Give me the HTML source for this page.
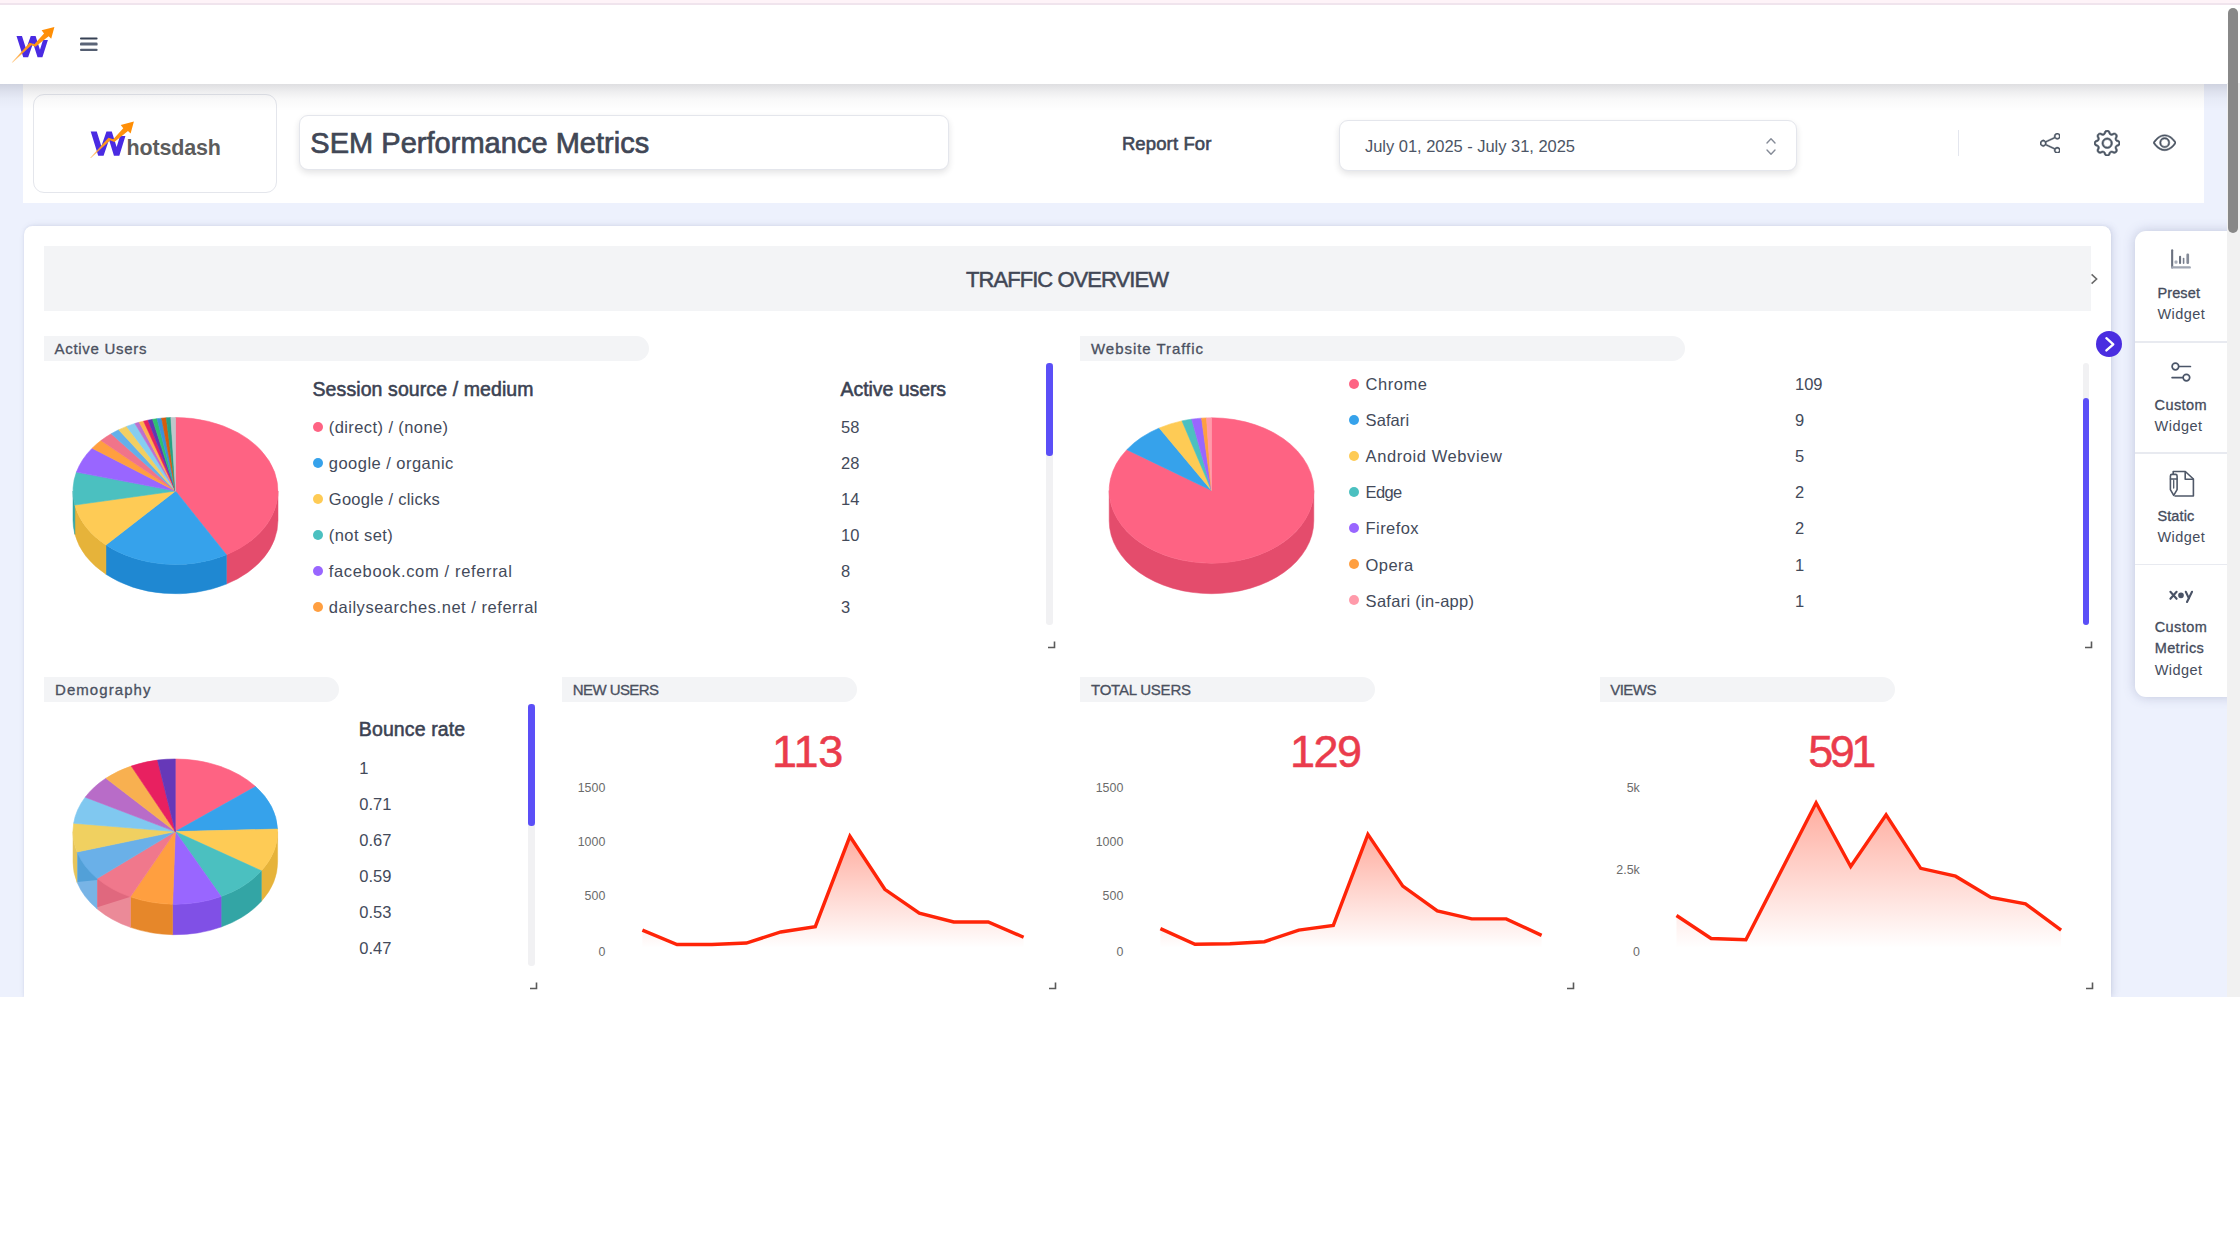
<!DOCTYPE html>
<html lang="en">
<head>
<meta charset="utf-8">
<title>SEM Performance Metrics - Whatsdash</title>
<style>
*{box-sizing:border-box;margin:0;padding:0}
html,body{width:2240px;height:1260px;overflow:hidden;background:#fff}
body{position:relative;font-family:"Liberation Sans",sans-serif}
.abs{position:absolute}
.t{position:absolute;white-space:nowrap;line-height:normal}
#stage{position:absolute;left:0;top:0;width:2240px;height:1260px;overflow:hidden}
#pinkbar{left:0;top:0;width:2240px;height:5px;z-index:11;background:linear-gradient(#fef3f8 0,#fef3f8 56%,#f0e4ed 64%,#f0e4ed 90%,#fff 100%)}
#bg{left:0;top:83px;width:2227px;height:914px;background:#edf1fd}
#nav{left:0;top:5px;width:2227px;height:78.5px;background:#fff;z-index:5}
#navsh{left:0;top:83.5px;width:2227px;height:27px;z-index:7;background:linear-gradient(rgba(10,10,30,.135) 0,rgba(10,10,30,.07) 28%,rgba(10,10,30,.028) 55%,rgba(10,10,30,0) 100%)}
#hdr{left:23px;top:83px;width:2181px;height:120.3px;background:#fff}
#logobox{left:33px;top:94px;width:243.5px;height:98.5px;border:1.3px solid #e4e6ec;border-radius:11px;background:#fff}
#title{left:299px;top:115px;width:650px;height:55px;border:1.3px solid #e4e6ec;border-radius:9px;background:#fff;box-shadow:0 3px 6px rgba(30,30,45,.12)}
#date{left:1339px;top:120px;width:458px;height:51px;border:1.3px solid #e4e6ec;border-radius:9px;background:#fff;box-shadow:0 3px 6px rgba(30,30,45,.12)}
#sep{left:1957.8px;top:130px;width:1.6px;height:26px;background:#e4e6ee}
#card{left:24.2px;top:226px;width:2086.4px;height:771px;background:#fff;border-radius:8.5px 8.5px 0 0;box-shadow:2.5px 0 7px rgba(70,80,130,.13),0 0 3px rgba(70,80,130,.10)}
#sect{left:44.2px;top:245.7px;width:2046.6px;height:65.7px;background:#f3f4f6}
.pill{position:absolute;height:24.5px;background:#f3f4f6;border-radius:0 12.5px 12.5px 0}
.dot{position:absolute;width:10px;height:10px;border-radius:50%}
.vs{position:absolute;width:6.4px;background:#f1f1f3;border-radius:3.2px}
.vt{position:absolute;width:6.4px;background:#5b4ff7;border-radius:3.2px}
#side{left:2135px;top:231px;width:100px;height:465.5px;background:#fff;border-radius:11px 0 0 11px;box-shadow:0 0 12px rgba(70,80,130,.27)}
.sl{position:absolute;left:2135px;width:92px;height:1.4px;background:#e8eaf0}
#fab{left:2095.8px;top:331px;width:26.4px;height:26.4px;border-radius:50%;background:#4a2de0;z-index:4}
#sbtrack{left:2227px;top:5px;width:13px;height:992px;background:#f1f1f1;z-index:9}
#sbtop{left:2227px;top:5px;width:13px;height:78px;background:#fff;z-index:9}
#sbthumb{left:2228.3px;top:8px;width:10px;height:225px;border-radius:5px;background:#888;z-index:10}
#below{left:0;top:997px;width:2240px;height:263px;background:#fff;z-index:12}
.lay{display:contents;border:0;background:none}
h1,h2,h3,label,b,strong{font-weight:400}

</style>
</head>
<body>
<div id="stage">
<div class="abs" id="bg"></div>
<div class="abs" id="pinkbar"></div>

<nav>
<div class="abs" id="nav"></div><div class="abs" id="navsh"></div>
<a class="lay"><svg class="abs" style="left:0;top:0;z-index:6" width="70" height="80" viewBox="0 0 70 80"><defs><linearGradient id="la" gradientUnits="userSpaceOnUse" x1="11.7" y1="62.5" x2="54.4" y2="26.9"><stop offset="0" stop-color="#ffb14d" stop-opacity="0.55"/><stop offset="0.3" stop-color="#ff9a1f"/><stop offset="1" stop-color="#ff8c00"/></linearGradient></defs><polygon points="16.50,35.90 21.99,35.90 26.14,49.06 30.76,35.90 35.59,35.90 39.96,49.66 43.03,39.99 47.90,39.99 42.41,57.30 37.54,57.30 33.08,43.20 28.15,57.30 23.28,57.30" fill="#4a2be2"/><polygon points="11.70,62.50 29.63,42.74 34.33,44.34 44.02,33.59 41.59,30.28 54.40,26.90 51.20,38.65 48.64,36.16 35.40,46.84 31.34,45.23 12.77,62.50" fill="url(#la)"/></svg></a>
<button class="lay"><svg class="abs" style="left:79px;top:36px;z-index:6" width="20" height="16" viewBox="0 0 20 16"><rect x="1" y="1.6" width="17.6" height="1.9" rx=".9" fill="#364154"/><rect x="1" y="6.6" width="17.6" height="3" rx="1.2" fill="#5a6477"/><rect x="1" y="12.7" width="17.6" height="2.2" rx="1" fill="#545e71"/></svg></button>
</nav>

<header>
<div class="abs" id="hdr"></div>
<div class="abs" id="logobox"></div>
<svg class="abs" style="left:80px;top:110px" width="70" height="60" viewBox="80 110 70 60"><defs><linearGradient id="lb" gradientUnits="userSpaceOnUse" x1="90" y1="158" x2="133.9" y2="121.4"><stop offset="0" stop-color="#ffb14d" stop-opacity="0.55"/><stop offset="0.3" stop-color="#ff9a1f"/><stop offset="1" stop-color="#ff8c00"/></linearGradient></defs><polygon points="90.70,131.40 96.77,131.40 101.35,146.34 106.45,131.40 111.80,131.40 116.62,147.02 120.02,136.04 125.40,136.04 119.33,155.70 113.95,155.70 109.02,139.69 103.57,155.70 98.20,155.70" fill="#4a2be2"/><polygon points="90.00,158.00 108.44,137.69 113.27,139.33 123.23,128.28 120.73,124.88 133.90,121.40 130.61,133.48 127.97,130.92 114.36,141.90 110.19,140.25 91.10,158.00" fill="url(#lb)"/></svg><span class="t" style="left:126.40px;top:135.54px;font-size:21.5px;color:#5c5c5c;font-weight:700;letter-spacing:-0.138px;">hotsdash</span>
<div class="abs" id="title"></div><h1 class="t" style="left:310.30px;top:127.16px;font-size:29px;color:#414756;letter-spacing:0.026px;-webkit-text-stroke:0.7px #414756;">SEM Performance Metrics</h1>
<label class="t" style="left:1121.90px;top:132.86px;font-size:18.5px;color:#414756;letter-spacing:0.120px;-webkit-text-stroke:0.6px #414756;">Report For</label>
<div class="abs" id="date"></div><span class="t" style="left:1365.00px;top:137.37px;font-size:16.5px;color:#4c5566;letter-spacing:-0.035px;">July 01, 2025 - July 31, 2025</span>
<svg class="abs" style="left:1764px;top:136px" width="14" height="21" viewBox="0 0 14 21" fill="none" stroke="#858b97" stroke-width="1.4" stroke-linecap="round" stroke-linejoin="round"><path d="M3,7 L7,2.8 L11,7"/><path d="M3,14 L7,18.2 L11,14"/></svg>
<div class="abs" id="sep"></div>
<button class="lay"><svg class="abs" style="left:2039.8px;top:132.8px" width="20.5" height="20.5" viewBox="0 0 16 16" fill="#4b5563" stroke="#4b5563" stroke-width=".32"><path d="M13.5 1a1.5 1.5 0 1 0 0 3 1.5 1.5 0 0 0 0-3zM11 2.5a2.5 2.5 0 1 1 .603 1.628l-6.718 3.12a2.499 2.499 0 0 1 0 1.504l6.718 3.12a2.5 2.5 0 1 1-.488.876l-6.718-3.12a2.5 2.5 0 1 1 0-3.256l6.718-3.12A2.5 2.5 0 0 1 11 2.5zm-8.5 4a1.5 1.5 0 1 0 0 3 1.5 1.5 0 0 0 0-3zm11 5.5a1.5 1.5 0 1 0 0 3 1.5 1.5 0 0 0 0-3z"/></svg></button>
<button class="lay"><svg class="abs" style="left:2094.0px;top:129.6px" width="26.4" height="26.4" viewBox="0 0 16 16" fill="#4b5563" stroke="#4b5563" stroke-width=".32"><path d="M8 4.754a3.246 3.246 0 1 0 0 6.492 3.246 3.246 0 0 0 0-6.492zM5.754 8a2.246 2.246 0 1 1 4.492 0 2.246 2.246 0 0 1-4.492 0z"/><path d="M9.796 1.343c-.527-1.79-3.065-1.79-3.592 0l-.094.319a.873.873 0 0 1-1.255.52l-.292-.16c-1.64-.892-3.433.902-2.54 2.541l.159.292a.873.873 0 0 1-.52 1.255l-.319.094c-1.79.527-1.79 3.065 0 3.592l.319.094a.873.873 0 0 1 .52 1.255l-.16.292c-.892 1.64.901 3.434 2.541 2.54l.292-.159a.873.873 0 0 1 1.255.52l.094.319c.527 1.79 3.065 1.79 3.592 0l.094-.319a.873.873 0 0 1 1.255-.52l.292.16c1.64.893 3.434-.902 2.54-2.541l-.159-.292a.873.873 0 0 1 .52-1.255l.319-.094c1.79-.527 1.79-3.065 0-3.592l-.319-.094a.873.873 0 0 1-.52-1.255l.16-.292c.893-1.64-.902-3.433-2.541-2.54l-.292.159a.873.873 0 0 1-1.255-.52l-.094-.319zm-2.633.283c.246-.835 1.428-.835 1.674 0l.094.319a1.873 1.873 0 0 0 2.693 1.115l.291-.16c.764-.415 1.6.42 1.184 1.185l-.159.292a1.873 1.873 0 0 0 1.116 2.692l.318.094c.835.246.835 1.428 0 1.674l-.319.094a1.873 1.873 0 0 0-1.115 2.693l.16.291c.415.764-.42 1.6-1.185 1.184l-.291-.159a1.873 1.873 0 0 0-2.693 1.116l-.094.318c-.246.835-1.428.835-1.674 0l-.094-.319a1.873 1.873 0 0 0-2.692-1.115l-.292.16c-.764.415-1.6-.42-1.184-1.185l.159-.291A1.873 1.873 0 0 0 1.945 8.93l-.319-.094c-.835-.246-.835-1.428 0-1.674l.319-.094A1.873 1.873 0 0 0 3.06 4.377l-.16-.292c-.415-.764.42-1.6 1.185-1.184l.292.159a1.873 1.873 0 0 0 2.692-1.115l.094-.319z"/></svg></button>
<button class="lay"><svg class="abs" style="left:2152.9px;top:130.8px" width="23.4" height="23.4" viewBox="0 0 16 16" fill="#4b5563" stroke="#4b5563" stroke-width=".32"><path d="M16 8s-3-5.5-8-5.5S0 8 0 8s3 5.5 8 5.5S16 8 16 8zM1.173 8a13.133 13.133 0 0 1 1.66-2.043C4.12 4.668 5.88 3.5 8 3.5c2.12 0 3.879 1.168 5.168 2.457A13.133 13.133 0 0 1 14.828 8c-.058.087-.122.183-.195.288-.335.48-.83 1.12-1.465 1.755C11.879 11.332 10.119 12.5 8 12.5c-2.12 0-3.879-1.168-5.168-2.457A13.134 13.134 0 0 1 1.172 8z"/><path d="M8 5.5a2.5 2.5 0 1 0 0 5 2.5 2.5 0 0 0 0-5zM4.5 8a3.5 3.5 0 1 1 7 0 3.5 3.5 0 0 1-7 0z"/></svg></button>
</header>

<main>
<div class="abs" id="card"></div>
<div class="abs" id="sect"></div><h2 class="t" style="left:966.00px;top:267.09px;font-size:22px;color:#414756;letter-spacing:-0.945px;-webkit-text-stroke:0.5px #414756;">TRAFFIC OVERVIEW</h2>
<svg class="abs" style="left:2089px;top:272px" width="10" height="14" viewBox="0 0 10 14"><path d="M2.6,2.4 L7.6,7 L2.6,11.6" fill="none" stroke="#6a6a6a" stroke-width="1.6"/></svg>

<section>
<div class="pill" style="left:44px;top:336.4px;width:605px"></div>
<svg class="abs" style="left:60px;top:400px" width="240" height="210" viewBox="60 400 240 210"><path d="M278.00,491.00 A102.5,73.5 0 0 1 226.42,554.79 L226.42,584.09 A102.5,73.5 0 0 0 278.00,520.30 Z" fill="#e44c6c" stroke="#e44c6c" stroke-width="0.5"/>
<path d="M226.42,554.79 A102.5,73.5 0 0 1 105.94,544.99 L105.94,574.29 A102.5,73.5 0 0 0 226.42,584.09 Z" fill="#1f88d2" stroke="#1f88d2" stroke-width="0.5"/>
<path d="M105.94,544.99 A102.5,73.5 0 0 1 74.89,505.03 L74.89,534.33 A102.5,73.5 0 0 0 105.94,574.29 Z" fill="#e6b33a" stroke="#e6b33a" stroke-width="0.5"/>
<path d="M74.89,505.03 A102.5,73.5 0 0 1 73.00,491.00 L73.00,520.30 A102.5,73.5 0 0 0 74.89,534.33 Z" fill="#33a5a5" stroke="#33a5a5" stroke-width="0.5"/>

<path d="M175.5,491 L175.50,417.50 A102.5,73.5 0 0 1 226.42,554.79 Z" fill="#fe6383" stroke="#fe6383" stroke-width="0.6"/>
<path d="M175.5,491 L226.42,554.79 A102.5,73.5 0 0 1 105.94,544.99 Z" fill="#36a2eb" stroke="#36a2eb" stroke-width="0.6"/>
<path d="M175.5,491 L105.94,544.99 A102.5,73.5 0 0 1 74.89,505.03 Z" fill="#fecb55" stroke="#fecb55" stroke-width="0.6"/>
<path d="M175.5,491 L74.89,505.03 A102.5,73.5 0 0 1 76.44,472.11 Z" fill="#4bc0c0" stroke="#4bc0c0" stroke-width="0.6"/>
<path d="M175.5,491 L76.44,472.11 A102.5,73.5 0 0 1 92.17,448.20 Z" fill="#9966ff" stroke="#9966ff" stroke-width="0.6"/>
<path d="M175.5,491 L92.17,448.20 A102.5,73.5 0 0 1 101.00,440.52 Z" fill="#ff9f40" stroke="#ff9f40" stroke-width="0.6"/>
<path d="M175.5,491 L101.00,440.52 A102.5,73.5 0 0 1 111.20,433.76 Z" fill="#f0748a" stroke="#f0748a" stroke-width="0.6"/>
<path d="M175.5,491 L111.20,433.76 A102.5,73.5 0 0 1 118.67,429.83 Z" fill="#64b0ea" stroke="#64b0ea" stroke-width="0.6"/>
<path d="M175.5,491 L118.67,429.83 A102.5,73.5 0 0 1 126.61,426.40 Z" fill="#f2cf62" stroke="#f2cf62" stroke-width="0.6"/>
<path d="M175.5,491 L126.61,426.40 A102.5,73.5 0 0 1 134.94,423.50 Z" fill="#86cdf0" stroke="#86cdf0" stroke-width="0.6"/>
<path d="M175.5,491 L134.94,423.50 A102.5,73.5 0 0 1 139.24,422.25 Z" fill="#bd70cf" stroke="#bd70cf" stroke-width="0.6"/>
<path d="M175.5,491 L139.24,422.25 A102.5,73.5 0 0 1 143.61,421.15 Z" fill="#ffb04d" stroke="#ffb04d" stroke-width="0.6"/>
<path d="M175.5,491 L143.61,421.15 A102.5,73.5 0 0 1 148.04,420.19 Z" fill="#e4225f" stroke="#e4225f" stroke-width="0.6"/>
<path d="M175.5,491 L148.04,420.19 A102.5,73.5 0 0 1 152.53,419.37 Z" fill="#6236b4" stroke="#6236b4" stroke-width="0.6"/>
<path d="M175.5,491 L152.53,419.37 A102.5,73.5 0 0 1 157.07,418.70 Z" fill="#2fc070" stroke="#2fc070" stroke-width="0.6"/>
<path d="M175.5,491 L157.07,418.70 A102.5,73.5 0 0 1 161.64,418.17 Z" fill="#3b92d9" stroke="#3b92d9" stroke-width="0.6"/>
<path d="M175.5,491 L161.64,418.17 A102.5,73.5 0 0 1 166.25,417.80 Z" fill="#d65c0c" stroke="#d65c0c" stroke-width="0.6"/>
<path d="M175.5,491 L166.25,417.80 A102.5,73.5 0 0 1 170.87,417.58 Z" fill="#27a083" stroke="#27a083" stroke-width="0.6"/>
<path d="M175.5,491 L170.87,417.58 A102.5,73.5 0 0 1 175.50,417.50 Z" fill="#bdc7cb" stroke="#bdc7cb" stroke-width="0.6"/></svg>
<h3 class="t" style="left:54.50px;top:340.32px;font-size:15px;color:#4a5060;letter-spacing:0.710px;-webkit-text-stroke:0.3px #4a5060;">Active Users</h3><b class="t" style="left:312.50px;top:377.85px;font-size:19.5px;color:#3b4252;letter-spacing:0.095px;-webkit-text-stroke:0.55px #3b4252;">Session source / medium</b><b class="t" style="left:840.60px;top:377.85px;font-size:19.5px;color:#3b4252;letter-spacing:-0.064px;-webkit-text-stroke:0.55px #3b4252;">Active users</b><i class="dot" style="left:313.0px;top:422.4px;background:#fe6383"></i><span class="t" style="left:328.80px;top:417.87px;font-size:16.5px;color:#434a5a;letter-spacing:0.407px;">(direct) / (none)</span><span class="t" style="left:841.00px;top:417.87px;font-size:16.5px;color:#434a5a;">58</span><i class="dot" style="left:313.0px;top:458.4px;background:#36a2eb"></i><span class="t" style="left:328.80px;top:453.87px;font-size:16.5px;color:#434a5a;letter-spacing:0.472px;">google / organic</span><span class="t" style="left:841.00px;top:453.87px;font-size:16.5px;color:#434a5a;">28</span><i class="dot" style="left:313.0px;top:494.4px;background:#fecb55"></i><span class="t" style="left:328.80px;top:489.87px;font-size:16.5px;color:#434a5a;letter-spacing:0.265px;">Google / clicks</span><span class="t" style="left:841.00px;top:489.87px;font-size:16.5px;color:#434a5a;">14</span><i class="dot" style="left:313.0px;top:530.4px;background:#4bc0c0"></i><span class="t" style="left:328.80px;top:525.87px;font-size:16.5px;color:#434a5a;letter-spacing:0.434px;">(not set)</span><span class="t" style="left:841.00px;top:525.87px;font-size:16.5px;color:#434a5a;">10</span><i class="dot" style="left:313.0px;top:566.4px;background:#9966ff"></i><span class="t" style="left:328.80px;top:561.87px;font-size:16.5px;color:#434a5a;letter-spacing:0.648px;">facebook.com / referral</span><span class="t" style="left:841.00px;top:561.87px;font-size:16.5px;color:#434a5a;">8</span><i class="dot" style="left:313.0px;top:602.4px;background:#ff9f40"></i><span class="t" style="left:328.80px;top:597.87px;font-size:16.5px;color:#434a5a;letter-spacing:0.529px;">dailysearches.net / referral</span><span class="t" style="left:841.00px;top:597.87px;font-size:16.5px;color:#434a5a;">3</span>
<div class="vs" style="left:1046.4px;top:362.7px;height:262.0px"></div><div class="vt" style="left:1046.4px;top:362.7px;height:93.1px"></div><svg class="abs" style="left:1047px;top:641px" width="9" height="8" viewBox="0 0 9 8"><path d="M7.5,0.5 V6.5 H1" fill="none" stroke="#5a5a5a" stroke-width="1.6"/></svg>
</section>

<section>
<div class="pill" style="left:1080px;top:336.4px;width:605px"></div>
<svg class="abs" style="left:1095px;top:400px" width="240" height="210" viewBox="1095 400 240 210"><path d="M1313.80,490.50 A102.3,72.7 0 0 1 1109.20,490.50 L1109.20,521.00 A102.3,72.7 0 0 0 1313.80,521.00 Z" fill="#e44c6c" stroke="#e44c6c" stroke-width="0.5"/>

<path d="M1211.5,490.5 L1211.50,417.80 A102.3,72.7 0 1 1 1126.88,449.65 Z" fill="#fe6383" stroke="#fe6383" stroke-width="0.6"/>
<path d="M1211.5,490.5 L1126.88,449.65 A102.3,72.7 0 0 1 1159.28,427.99 Z" fill="#36a2eb" stroke="#36a2eb" stroke-width="0.6"/>
<path d="M1211.5,490.5 L1159.28,427.99 A102.3,72.7 0 0 1 1182.03,420.88 Z" fill="#fecb55" stroke="#fecb55" stroke-width="0.6"/>
<path d="M1211.5,490.5 L1182.03,420.88 A102.3,72.7 0 0 1 1191.70,419.18 Z" fill="#4bc0c0" stroke="#4bc0c0" stroke-width="0.6"/>
<path d="M1211.5,490.5 L1191.70,419.18 A102.3,72.7 0 0 1 1201.55,418.14 Z" fill="#9966ff" stroke="#9966ff" stroke-width="0.6"/>
<path d="M1211.5,490.5 L1201.55,418.14 A102.3,72.7 0 0 1 1206.52,417.89 Z" fill="#ff9f40" stroke="#ff9f40" stroke-width="0.6"/>
<path d="M1211.5,490.5 L1206.52,417.89 A102.3,72.7 0 0 1 1211.50,417.80 Z" fill="#ff9aaa" stroke="#ff9aaa" stroke-width="0.6"/></svg>
<h3 class="t" style="left:1091.00px;top:340.32px;font-size:15px;color:#4a5060;letter-spacing:0.953px;-webkit-text-stroke:0.3px #4a5060;">Website Traffic</h3><i class="dot" style="left:1349.3px;top:378.7px;background:#fe6383"></i><span class="t" style="left:1365.60px;top:375.07px;font-size:16.5px;color:#434a5a;letter-spacing:0.523px;">Chrome</span><span class="t" style="left:1795.00px;top:375.07px;font-size:16.5px;color:#434a5a;">109</span><i class="dot" style="left:1349.3px;top:414.8px;background:#36a2eb"></i><span class="t" style="left:1365.60px;top:411.17px;font-size:16.5px;color:#434a5a;letter-spacing:0.080px;">Safari</span><span class="t" style="left:1795.00px;top:411.17px;font-size:16.5px;color:#434a5a;">9</span><i class="dot" style="left:1349.3px;top:450.9px;background:#fecb55"></i><span class="t" style="left:1365.60px;top:447.27px;font-size:16.5px;color:#434a5a;letter-spacing:0.580px;">Android Webview</span><span class="t" style="left:1795.00px;top:447.27px;font-size:16.5px;color:#434a5a;">5</span><i class="dot" style="left:1349.3px;top:487.0px;background:#4bc0c0"></i><span class="t" style="left:1365.60px;top:483.37px;font-size:16.5px;color:#434a5a;letter-spacing:-0.677px;">Edge</span><span class="t" style="left:1795.00px;top:483.37px;font-size:16.5px;color:#434a5a;">2</span><i class="dot" style="left:1349.3px;top:523.1px;background:#9966ff"></i><span class="t" style="left:1365.60px;top:519.47px;font-size:16.5px;color:#434a5a;letter-spacing:0.429px;">Firefox</span><span class="t" style="left:1795.00px;top:519.47px;font-size:16.5px;color:#434a5a;">2</span><i class="dot" style="left:1349.3px;top:559.2px;background:#ff9f40"></i><span class="t" style="left:1365.60px;top:555.57px;font-size:16.5px;color:#434a5a;letter-spacing:0.410px;">Opera</span><span class="t" style="left:1795.00px;top:555.57px;font-size:16.5px;color:#434a5a;">1</span><i class="dot" style="left:1349.3px;top:595.3px;background:#ff9aaa"></i><span class="t" style="left:1365.60px;top:591.67px;font-size:16.5px;color:#434a5a;letter-spacing:0.276px;">Safari (in-app)</span><span class="t" style="left:1795.00px;top:591.67px;font-size:16.5px;color:#434a5a;">1</span>
<div class="vs" style="left:2082.8px;top:362.7px;height:262.0px"></div><div class="vt" style="left:2082.8px;top:398px;height:226.7px"></div><svg class="abs" style="left:2083.6px;top:641px" width="9" height="8" viewBox="0 0 9 8"><path d="M7.5,0.5 V6.5 H1" fill="none" stroke="#5a5a5a" stroke-width="1.6"/></svg>
</section>

<section>
<div class="pill" style="left:44px;top:677.2px;width:295px"></div>
<svg class="abs" style="left:60px;top:745px" width="240" height="210" viewBox="60 745 240 210"><path d="M277.60,831.60 A102.3,72.6 0 0 1 261.39,870.82 L261.39,901.32 A102.3,72.6 0 0 0 277.60,862.10 Z" fill="#e6b33a" stroke="#e6b33a" stroke-width="0.5"/>
<path d="M261.39,870.82 A102.3,72.6 0 0 1 221.11,896.52 L221.11,927.02 A102.3,72.6 0 0 0 261.39,901.32 Z" fill="#33a5a5" stroke="#33a5a5" stroke-width="0.5"/>
<path d="M221.11,896.52 A102.3,72.6 0 0 1 172.62,904.18 L172.62,934.68 A102.3,72.6 0 0 0 221.11,927.02 Z" fill="#8050e6" stroke="#8050e6" stroke-width="0.5"/>
<path d="M172.62,904.18 A102.3,72.6 0 0 1 130.45,896.85 L130.45,927.35 A102.3,72.6 0 0 0 172.62,934.68 Z" fill="#e6872a" stroke="#e6872a" stroke-width="0.5"/>
<path d="M130.45,896.85 A102.3,72.6 0 0 1 97.16,878.46 L97.16,908.96 A102.3,72.6 0 0 0 130.45,927.35 Z" fill="#eb8a98" stroke="#eb8a98" stroke-width="0.5"/>
<path d="M97.16,878.46 A102.3,72.6 0 0 1 77.11,851.98 L77.11,882.48 A102.3,72.6 0 0 0 97.16,908.96 Z" fill="#78b4e6" stroke="#78b4e6" stroke-width="0.5"/>
<path d="M77.11,851.98 A102.3,72.6 0 0 1 73.00,831.60 L73.00,862.10 A102.3,72.6 0 0 0 77.11,882.48 Z" fill="#e6c45c" stroke="#e6c45c" stroke-width="0.5"/>
<polygon points="97.3,878 129.8,894.2 129.8,897 97.3,907.2" fill="#e0687e"/><polygon points="77.5,853 97.3,878 97.3,880 77.5,882" fill="#52a0d8"/>
<path d="M175.3,831.6 L175.30,759.00 A102.3,72.6 0 0 1 255.58,786.60 Z" fill="#fe6383" stroke="#fe6383" stroke-width="0.6"/>
<path d="M175.3,831.6 L255.58,786.60 A102.3,72.6 0 0 1 277.54,829.07 Z" fill="#36a2eb" stroke="#36a2eb" stroke-width="0.6"/>
<path d="M175.3,831.6 L277.54,829.07 A102.3,72.6 0 0 1 261.39,870.82 Z" fill="#fecb55" stroke="#fecb55" stroke-width="0.6"/>
<path d="M175.3,831.6 L261.39,870.82 A102.3,72.6 0 0 1 221.11,896.52 Z" fill="#4bc0c0" stroke="#4bc0c0" stroke-width="0.6"/>
<path d="M175.3,831.6 L221.11,896.52 A102.3,72.6 0 0 1 172.62,904.18 Z" fill="#9966ff" stroke="#9966ff" stroke-width="0.6"/>
<path d="M175.3,831.6 L172.62,904.18 A102.3,72.6 0 0 1 130.45,896.85 Z" fill="#ff9f40" stroke="#ff9f40" stroke-width="0.6"/>
<path d="M175.3,831.6 L130.45,896.85 A102.3,72.6 0 0 1 97.16,878.46 Z" fill="#f0788c" stroke="#f0788c" stroke-width="0.6"/>
<path d="M175.3,831.6 L97.16,878.46 A102.3,72.6 0 0 1 77.11,851.98 Z" fill="#6ab0e8" stroke="#6ab0e8" stroke-width="0.6"/>
<path d="M175.3,831.6 L77.11,851.98 A102.3,72.6 0 0 1 73.68,823.26 Z" fill="#f0d060" stroke="#f0d060" stroke-width="0.6"/>
<path d="M175.3,831.6 L73.68,823.26 A102.3,72.6 0 0 1 85.23,797.18 Z" fill="#80c8f0" stroke="#80c8f0" stroke-width="0.6"/>
<path d="M175.3,831.6 L85.23,797.18 A102.3,72.6 0 0 1 105.92,778.25 Z" fill="#b86cc8" stroke="#b86cc8" stroke-width="0.6"/>
<path d="M175.3,831.6 L105.92,778.25 A102.3,72.6 0 0 1 131.26,766.07 Z" fill="#f8b050" stroke="#f8b050" stroke-width="0.6"/>
<path d="M175.3,831.6 L131.26,766.07 A102.3,72.6 0 0 1 157.54,760.10 Z" fill="#e82060" stroke="#e82060" stroke-width="0.6"/>
<path d="M175.3,831.6 L157.54,760.10 A102.3,72.6 0 0 1 175.30,759.00 Z" fill="#6638b8" stroke="#6638b8" stroke-width="0.6"/></svg>
<h3 class="t" style="left:55.00px;top:681.42px;font-size:15px;color:#4a5060;letter-spacing:1.068px;-webkit-text-stroke:0.3px #4a5060;">Demography</h3><b class="t" style="left:358.80px;top:718.45px;font-size:19.5px;color:#3b4252;letter-spacing:0.125px;-webkit-text-stroke:0.55px #3b4252;">Bounce rate</b><span class="t" style="left:359.30px;top:758.97px;font-size:16.5px;color:#434a5a;">1</span><span class="t" style="left:359.30px;top:794.97px;font-size:16.5px;color:#434a5a;">0.71</span><span class="t" style="left:359.30px;top:830.97px;font-size:16.5px;color:#434a5a;">0.67</span><span class="t" style="left:359.30px;top:866.97px;font-size:16.5px;color:#434a5a;">0.59</span><span class="t" style="left:359.30px;top:902.97px;font-size:16.5px;color:#434a5a;">0.53</span><span class="t" style="left:359.30px;top:938.97px;font-size:16.5px;color:#434a5a;">0.47</span>
<div class="vs" style="left:528.2px;top:703.5px;height:262.0px"></div><div class="vt" style="left:528.2px;top:703.5px;height:122.9px"></div><svg class="abs" style="left:529.4px;top:982.4px" width="9" height="8" viewBox="0 0 9 8"><path d="M7.5,0.5 V6.5 H1" fill="none" stroke="#5a5a5a" stroke-width="1.6"/></svg>
</section>

<section>
<div class="pill" style="left:562px;top:677.2px;width:295px"></div>
<h3 class="t" style="left:572.80px;top:681.42px;font-size:15px;color:#4a5060;letter-spacing:-0.579px;-webkit-text-stroke:0.3px #4a5060;">NEW USERS</h3><strong class="t" style="left:772.00px;top:726.27px;font-size:45px;color:#ea3c4c;letter-spacing:-0.171px;-webkit-text-stroke:0.5px #ea3c4c;">113</strong><span class="t" style="left:577.71px;top:780.63px;font-size:12.4px;color:#6b6b6b;">1500</span><span class="t" style="left:577.71px;top:834.83px;font-size:12.4px;color:#6b6b6b;">1000</span><span class="t" style="left:584.61px;top:888.53px;font-size:12.4px;color:#6b6b6b;">500</span><span class="t" style="left:598.40px;top:944.83px;font-size:12.4px;color:#6b6b6b;">0</span>
<svg class="abs" style="left:620px;top:780px" width="430" height="190" viewBox="620 780 430 190"><defs><linearGradient id="g1" gradientUnits="userSpaceOnUse" x1="0" y1="836.3" x2="0" y2="948"><stop offset="0" stop-color="#ff3a1a" stop-opacity="0.42"/><stop offset="1" stop-color="#ff3a1a" stop-opacity="0"/></linearGradient></defs><path d="M642.4,948 L642.4,930.1 L677.0,944.5 L711.9,944.5 L746.4,943.0 L780.8,932.0 L815.3,926.7 L849.9,836.3 L884.8,889.3 L919.3,913.1 L953.7,922.0 L988.2,922.0 L1023.6,937.2 L1023.6,948 Z" fill="url(#g1)"/><polyline points="642.4,930.1 677.0,944.5 711.9,944.5 746.4,943.0 780.8,932.0 815.3,926.7 849.9,836.3 884.8,889.3 919.3,913.1 953.7,922.0 988.2,922.0 1023.6,937.2" fill="none" stroke="#ff2408" stroke-width="3.4" stroke-linejoin="miter" stroke-linecap="butt"/></svg>
<svg class="abs" style="left:1047.6px;top:982.4px" width="9" height="8" viewBox="0 0 9 8"><path d="M7.5,0.5 V6.5 H1" fill="none" stroke="#5a5a5a" stroke-width="1.6"/></svg>
</section>

<section>
<div class="pill" style="left:1080px;top:677.2px;width:295px"></div>
<h3 class="t" style="left:1091.00px;top:681.42px;font-size:15px;color:#4a5060;letter-spacing:-0.225px;-webkit-text-stroke:0.3px #4a5060;">TOTAL USERS</h3><strong class="t" style="left:1290.00px;top:726.27px;font-size:45px;color:#ea3c4c;letter-spacing:-1.541px;-webkit-text-stroke:0.5px #ea3c4c;">129</strong><span class="t" style="left:1095.71px;top:780.63px;font-size:12.4px;color:#6b6b6b;">1500</span><span class="t" style="left:1095.71px;top:834.83px;font-size:12.4px;color:#6b6b6b;">1000</span><span class="t" style="left:1102.61px;top:888.53px;font-size:12.4px;color:#6b6b6b;">500</span><span class="t" style="left:1116.40px;top:944.83px;font-size:12.4px;color:#6b6b6b;">0</span>
<svg class="abs" style="left:1138px;top:780px" width="430" height="190" viewBox="1138 780 430 190"><defs><linearGradient id="g2" gradientUnits="userSpaceOnUse" x1="0" y1="834.3" x2="0" y2="948"><stop offset="0" stop-color="#ff3a1a" stop-opacity="0.42"/><stop offset="1" stop-color="#ff3a1a" stop-opacity="0"/></linearGradient></defs><path d="M1160.4,948 L1160.4,928.6 L1195.0,944.3 L1229.9,943.8 L1264.4,941.7 L1298.8,930.1 L1333.3,925.4 L1367.9,834.3 L1402.8,886.1 L1437.3,911.0 L1471.7,918.9 L1506.2,918.9 L1541.6,935.4 L1541.6,948 Z" fill="url(#g2)"/><polyline points="1160.4,928.6 1195.0,944.3 1229.9,943.8 1264.4,941.7 1298.8,930.1 1333.3,925.4 1367.9,834.3 1402.8,886.1 1437.3,911.0 1471.7,918.9 1506.2,918.9 1541.6,935.4" fill="none" stroke="#ff2408" stroke-width="3.4" stroke-linejoin="miter" stroke-linecap="butt"/></svg>
<svg class="abs" style="left:1566px;top:982.4px" width="9" height="8" viewBox="0 0 9 8"><path d="M7.5,0.5 V6.5 H1" fill="none" stroke="#5a5a5a" stroke-width="1.6"/></svg>
</section>

<section>
<div class="pill" style="left:1600px;top:677.2px;width:295px"></div>
<h3 class="t" style="left:1610.20px;top:681.42px;font-size:15px;color:#4a5060;letter-spacing:-0.534px;-webkit-text-stroke:0.3px #4a5060;">VIEWS</h3><strong class="t" style="left:1808.30px;top:726.27px;font-size:45px;color:#ea3c4c;letter-spacing:-3.541px;-webkit-text-stroke:0.5px #ea3c4c;">591</strong><span class="t" style="left:1626.70px;top:780.63px;font-size:12.4px;color:#6b6b6b;">5k</span><span class="t" style="left:1616.36px;top:862.83px;font-size:12.4px;color:#6b6b6b;">2.5k</span><span class="t" style="left:1632.90px;top:944.83px;font-size:12.4px;color:#6b6b6b;">0</span>
<svg class="abs" style="left:1655px;top:780px" width="430" height="190" viewBox="1655 780 430 190"><defs><linearGradient id="g3" gradientUnits="userSpaceOnUse" x1="0" y1="802.8" x2="0" y2="948"><stop offset="0" stop-color="#ff3a1a" stop-opacity="0.42"/><stop offset="1" stop-color="#ff3a1a" stop-opacity="0"/></linearGradient></defs><path d="M1676.5,948 L1676.5,915.5 L1711.1,938.5 L1745.9,939.8 L1781.0,871.2 L1816.1,802.8 L1850.7,866.5 L1886.1,814.9 L1920.7,868.3 L1955.5,876.2 L1990.9,897.4 L2025.5,903.9 L2061.1,930.1 L2061.1,948 Z" fill="url(#g3)"/><polyline points="1676.5,915.5 1711.1,938.5 1745.9,939.8 1781.0,871.2 1816.1,802.8 1850.7,866.5 1886.1,814.9 1920.7,868.3 1955.5,876.2 1990.9,897.4 2025.5,903.9 2061.1,930.1" fill="none" stroke="#ff2408" stroke-width="3.4" stroke-linejoin="miter" stroke-linecap="butt"/></svg>
<svg class="abs" style="left:2085.2px;top:982.4px" width="9" height="8" viewBox="0 0 9 8"><path d="M7.5,0.5 V6.5 H1" fill="none" stroke="#5a5a5a" stroke-width="1.6"/></svg>
</section>
</main>

<aside>
<div class="abs" id="side"></div>
<div class="abs" id="fab"><svg width="26.4" height="26.4" viewBox="0 0 26.4 26.4"><path d="M10.4,7.2 L17.3,13.3 L10.4,19.4" fill="none" stroke="#fff" stroke-width="2.35" stroke-linecap="round" stroke-linejoin="round"/></svg></div>
<div><svg class="abs" style="left:2165px;top:244px" width="32" height="30" viewBox="2165 244 32 30"><g><rect x="2171.1" y="249.3" width="2.1" height="19.2" rx="1" fill="#6b7280"/><rect x="2171.1" y="266.2" width="19.8" height="2.4" rx="1.2" fill="#a0a6b3"/><rect x="2174.5" y="260.6" width="3" height="3.2" rx="1" fill="#a9aeb9"/><rect x="2179" y="255.8" width="2.1" height="8.2" rx="1" fill="#6b7280"/><rect x="2182.8" y="257.8" width="1.6" height="6.2" rx=".8" fill="#7a8090"/><rect x="2186.4" y="253.6" width="2.7" height="10.4" rx="1.2" fill="#858b98"/></g></svg><span class="t" style="left:2157.40px;top:285.28px;font-size:14.5px;color:#454c5c;letter-spacing:0.140px;-webkit-text-stroke:0.32px #454c5c;">Preset</span><span class="t" style="left:2157.40px;top:306.28px;font-size:14.5px;color:#454c5c;letter-spacing:0.455px;">Widget</span></div>
<div class="sl" style="top:341.3px"></div>
<div><svg class="abs" style="left:2165px;top:358px" width="32" height="28" viewBox="2165 358 32 28"><g fill="none" stroke="#4a5568" stroke-width="1.7" stroke-linecap="round"><circle cx="2175.4" cy="366.5" r="3.3"/><path d="M2179.3,366.5 H2190.4"/><circle cx="2186.4" cy="377.6" r="3.3"/><path d="M2172.1,377.6 H2182.4"/></g></svg><span class="t" style="left:2154.60px;top:396.58px;font-size:14.5px;color:#454c5c;letter-spacing:0.409px;-webkit-text-stroke:0.32px #454c5c;">Custom</span><span class="t" style="left:2154.60px;top:417.58px;font-size:14.5px;color:#454c5c;letter-spacing:0.455px;">Widget</span></div>
<div class="sl" style="top:452.4px"></div>
<div><svg class="abs" style="left:2165px;top:466px" width="34" height="34" viewBox="2165 466 34 34"><g fill="none" stroke="#4f5868" stroke-width="1.6" stroke-linejoin="round" stroke-linecap="round"><path d="M2173.2,474 V471.5 H2185.3 L2193.4,479 V496 H2175"/><path d="M2185.2,471.8 V479.2 H2193.2"/><path d="M2170.4,489.6 V476 a1.6,1.6 0 0 1 1.6,-1.6 h3.5 a1.6,1.6 0 0 1 1.6,1.6 V489.6 L2173.7,495.4 Z" fill="#fff"/><path d="M2170.4,479 H2177.1 M2173.7,480.5 V488" stroke-width="1.3"/></g></svg><span class="t" style="left:2157.40px;top:507.98px;font-size:14.5px;color:#454c5c;letter-spacing:0.128px;-webkit-text-stroke:0.32px #454c5c;">Static</span><span class="t" style="left:2157.40px;top:528.68px;font-size:14.5px;color:#454c5c;letter-spacing:0.455px;">Widget</span></div>
<div class="sl" style="top:564px"></div>
<div><svg class="abs" style="left:2165px;top:586px" width="32" height="20" viewBox="2165 586 32 20"><g fill="none" stroke="#4a5366" stroke-width="2.1" stroke-linecap="round"><path d="M2170.4,591.8 L2176.6,598.8 M2176.6,591.8 L2170.4,598.8"/><path d="M2185.8,591.8 L2189,598.6 M2192,591.8 L2187,602"/><circle cx="2181" cy="595.3" r="1.8" fill="#4a5366"/></g></svg><span class="t" style="left:2154.70px;top:619.38px;font-size:14.5px;color:#454c5c;letter-spacing:0.449px;-webkit-text-stroke:0.32px #454c5c;">Custom</span><span class="t" style="left:2154.70px;top:640.38px;font-size:14.5px;color:#454c5c;letter-spacing:0.397px;-webkit-text-stroke:0.32px #454c5c;">Metrics</span><span class="t" style="left:2154.70px;top:661.58px;font-size:14.5px;color:#454c5c;letter-spacing:0.455px;">Widget</span></div>
</aside>

<div class="abs" id="below"></div>
<div class="abs" id="sbtrack"></div><div class="abs" id="sbtop"></div><div class="abs" id="sbthumb"></div>
</div>
</body>
</html>
